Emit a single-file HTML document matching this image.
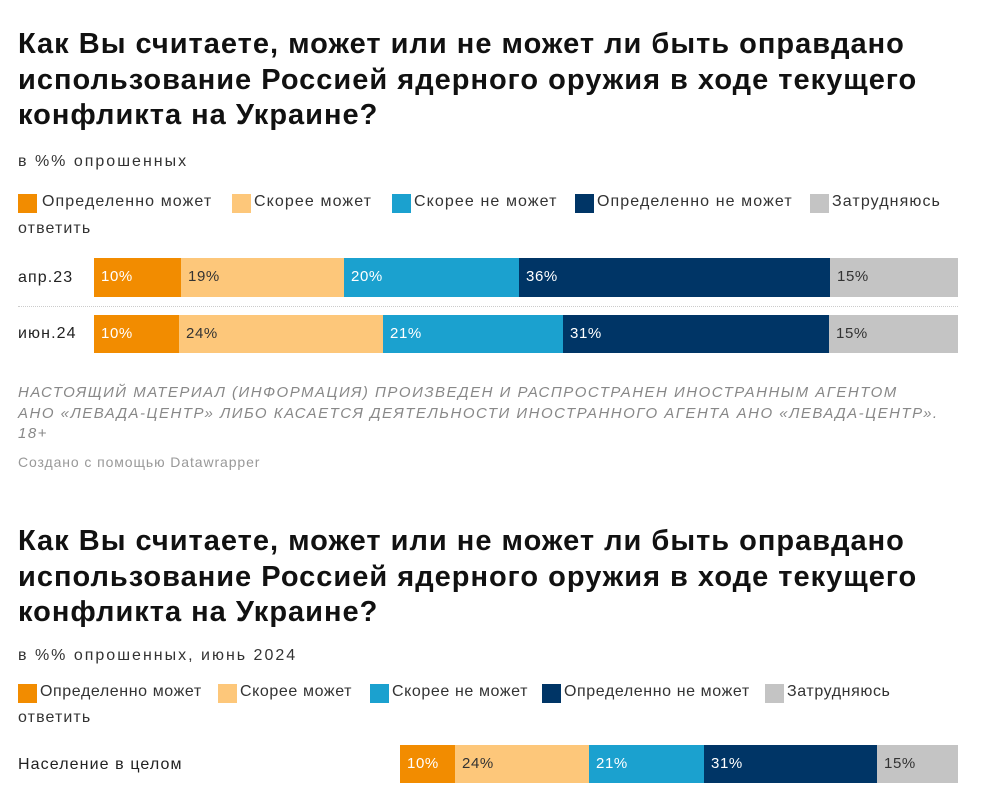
<!DOCTYPE html>
<html><head><meta charset="utf-8"><style>
body{margin:0;width:1000px;height:812px;background:#fff;font-family:"Liberation Sans",sans-serif;color:#222;position:relative;overflow:hidden}
.a{position:absolute;white-space:nowrap}
h1{position:absolute;left:18px;margin:0;font-size:29px;line-height:35.5px;font-weight:bold;color:#111;letter-spacing:1.0px}
.sub{font-size:16px;color:#333;letter-spacing:2px}
.lg{font-size:16px;color:#333;letter-spacing:1.1px}
.sw{position:absolute;width:19px;height:19px}
.seg{position:absolute;font-size:15px;line-height:38px;padding-left:7px;box-sizing:border-box;letter-spacing:0.6px}
.fn{font-size:15px;color:#888;font-style:italic;line-height:20.5px;letter-spacing:1.5px}
</style></head><body>
<h1 style="top:27px">Как Вы считаете, может или не может ли быть оправдано<br>использование Россией ядерного оружия в ходе текущего<br>конфликта на Украине?</h1>
<div class="a sub" style="left:18px;top:153px">в %% опрошенных</div>

<div class="sw" style="left:18px;top:194px;background:#f28c00"></div><div class="a lg" style="left:42px;top:193px">Определенно может</div>
<div class="sw" style="left:232px;top:194px;background:#fdc77a"></div><div class="a lg" style="left:254px;top:193px">Скорее может</div>
<div class="sw" style="left:392px;top:194px;background:#1ba1cf"></div><div class="a lg" style="left:414px;top:193px">Скорее не может</div>
<div class="sw" style="left:575px;top:194px;background:#003566"></div><div class="a lg" style="left:597px;top:193px">Определенно не может</div>
<div class="sw" style="left:810px;top:194px;background:#c4c4c4"></div><div class="a lg" style="left:832px;top:193px">Затрудняюсь</div>
<div class="a lg" style="left:18px;top:220px">ответить</div>

<div class="a lg" style="left:18px;top:269px;color:#222">апр.23</div>
<div class="seg" style="left:94px;top:258px;width:87px;height:39px;background:#f28c00;color:#fff">10%</div>
<div class="seg" style="left:181px;top:258px;width:163px;height:39px;background:#fdc77a;color:#333">19%</div>
<div class="seg" style="left:344px;top:258px;width:175px;height:39px;background:#1ba1cf;color:#fff">20%</div>
<div class="seg" style="left:519px;top:258px;width:311px;height:39px;background:#003566;color:#fff">36%</div>
<div class="seg" style="left:830px;top:258px;width:128px;height:39px;background:#c4c4c4;color:#333">15%</div>
<div class="a" style="left:18px;top:306px;width:940px;border-top:1px dotted #ccc"></div>
<div class="a lg" style="left:18px;top:325px;color:#222">июн.24</div>
<div class="seg" style="left:94px;top:315px;width:85px;height:38px;background:#f28c00;color:#fff">10%</div>
<div class="seg" style="left:179px;top:315px;width:204px;height:38px;background:#fdc77a;color:#333">24%</div>
<div class="seg" style="left:383px;top:315px;width:180px;height:38px;background:#1ba1cf;color:#fff">21%</div>
<div class="seg" style="left:563px;top:315px;width:266px;height:38px;background:#003566;color:#fff">31%</div>
<div class="seg" style="left:829px;top:315px;width:129px;height:38px;background:#c4c4c4;color:#333">15%</div>

<div class="a fn" style="left:18px;top:383px">НАСТОЯЩИЙ МАТЕРИАЛ (ИНФОРМАЦИЯ) ПРОИЗВЕДЕН И РАСПРОСТРАНЕН ИНОСТРАННЫМ АГЕНТОМ<br>АНО «ЛЕВАДА-ЦЕНТР» ЛИБО КАСАЕТСЯ ДЕЯТЕЛЬНОСТИ ИНОСТРАННОГО АГЕНТА АНО «ЛЕВАДА-ЦЕНТР».<br>18+</div>
<div class="a" style="left:18px;top:454px;font-size:14px;color:#999;letter-spacing:0.9px">Создано с помощью Datawrapper</div>

<h1 style="top:524px">Как Вы считаете, может или не может ли быть оправдано<br>использование Россией ядерного оружия в ходе текущего<br>конфликта на Украине?</h1>
<div class="a sub" style="left:18px;top:647px">в %% опрошенных, июнь 2024</div>

<div class="sw" style="left:18px;top:684px;background:#f28c00"></div><div class="a lg" style="left:40px;top:683px;letter-spacing:0.6px">Определенно может</div>
<div class="sw" style="left:218px;top:684px;background:#fdc77a"></div><div class="a lg" style="left:240px;top:683px;letter-spacing:0.6px">Скорее может</div>
<div class="sw" style="left:370px;top:684px;background:#1ba1cf"></div><div class="a lg" style="left:392px;top:683px;letter-spacing:0.6px">Скорее не может</div>
<div class="sw" style="left:542px;top:684px;background:#003566"></div><div class="a lg" style="left:564px;top:683px;letter-spacing:0.6px">Определенно не может</div>
<div class="sw" style="left:765px;top:684px;background:#c4c4c4"></div><div class="a lg" style="left:787px;top:683px;letter-spacing:0.6px">Затрудняюсь</div>
<div class="a lg" style="left:18px;top:709px">ответить</div>

<div class="a lg" style="left:18px;top:756px;color:#222">Население в целом</div>
<div class="seg" style="left:400px;top:745px;width:55px;height:38px;background:#f28c00;color:#fff">10%</div>
<div class="seg" style="left:455px;top:745px;width:134px;height:38px;background:#fdc77a;color:#333">24%</div>
<div class="seg" style="left:589px;top:745px;width:115px;height:38px;background:#1ba1cf;color:#fff">21%</div>
<div class="seg" style="left:704px;top:745px;width:173px;height:38px;background:#003566;color:#fff">31%</div>
<div class="seg" style="left:877px;top:745px;width:81px;height:38px;background:#c4c4c4;color:#333">15%</div>
</body></html>
